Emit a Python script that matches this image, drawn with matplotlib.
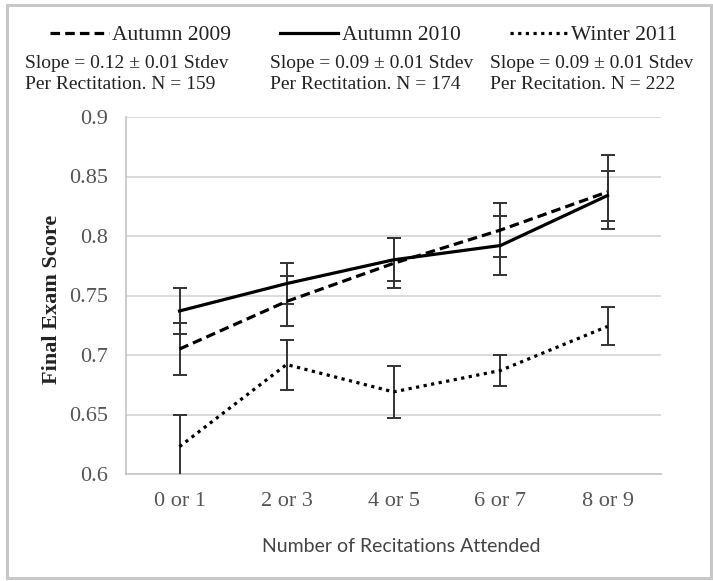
import matplotlib
matplotlib.use("Agg")
import matplotlib.pyplot as plt
from matplotlib.patches import Rectangle

# Recitation attendance groups
categories = ["0 or 1", "2 or 3", "4 or 5", "6 or 7", "8 or 9"]

# Mean final exam score and standard error for each term
autumn2009 = [0.705, 0.745, 0.777, 0.805, 0.837]
autumn2009_err = [0.022, 0.021, 0.021, 0.023, 0.031]
autumn2010 = [0.737, 0.760, 0.780, 0.792, 0.834]
autumn2010_err = [0.019, 0.017, 0.018, 0.025, 0.021]
winter2011 = [0.623, 0.692, 0.669, 0.687, 0.724]
winter2011_err = [0.027, 0.021, 0.022, 0.013, 0.016]

series_names = ["Autumn 2009", "Autumn 2010", "Winter 2011"]
slope_notes = [
    "Slope = 0.12 \u00b1 0.01 Stdev\nPer Rectitation. N = 159",
    "Slope = 0.09 \u00b1 0.01 Stdev\nPer Rectitation. N = 174",
    "Slope = 0.09 \u00b1 0.01 Stdev\nPer Recitation. N = 222",
]
y_ticks = [0.6, 0.65, 0.7, 0.75, 0.8, 0.85, 0.9]
y_tick_labels = ["0.6", "0.65", "0.7", "0.75", "0.8", "0.85", "0.9"]

SERIF = ["Liberation Serif", "DejaVu Serif"]
W, H = 713, 581
fig = plt.figure(figsize=(W / 100, H / 100), dpi=100)
ax = fig.add_axes([126 / W, 1 - 474 / H, 535 / W, 357 / H])

x = list(range(len(categories)))
styles = [
    dict(linestyle=(0, (3, 1.6)), linewidth=2.3),
    dict(linestyle="-", linewidth=2.3),
    dict(linestyle=(0, (1, 1.4)), linewidth=2.3),
]
means = [autumn2009, autumn2010, winter2011]
errs = [autumn2009_err, autumn2010_err, winter2011_err]

handles = []
for name, m, e, st in zip(series_names, means, errs, styles):
    ax.errorbar(x, m, yerr=e, fmt="none", ecolor="#333333", elinewidth=1.4,
                capsize=5, capthick=1.4, zorder=3)
    (ln,) = ax.plot(x, m, color="black", label=name, zorder=4, **st)
    handles.append(ln)

ax.set_xlim(-0.5, len(categories) - 0.5)
ax.set_ylim(0.6, 0.9)
ax.set_yticks(y_ticks)
ax.set_yticklabels(y_tick_labels)
ax.set_xticks(x)
ax.set_xticklabels(categories)
ax.tick_params(length=0, labelsize=16, labelcolor="#555555", pad=13)
for lbl in ax.get_xticklabels() + ax.get_yticklabels():
    lbl.set_family(SERIF)

ax.yaxis.grid(True, color="#d4d4d4", linewidth=1.2)
ax.set_axisbelow(True)
for side in ("top", "right"):
    ax.spines[side].set_visible(False)
for side in ("left", "bottom"):
    ax.spines[side].set_color("#c4c4c4")
    ax.spines[side].set_linewidth(1.2)

ax.set_ylabel("Final Exam Score", family=SERIF, fontsize=16, fontweight="bold",
              color="#222222", ha="center", va="center")
ax.yaxis.set_label_coords((52 - 126) / 535, (474 - 299) / 357)
ax.set_xlabel("Number of Recitations Attended", family=["Lato", "DejaVu Sans"],
              fontsize=14, color="#444444", ha="center", va="center")
ax.xaxis.set_label_coords((401 - 126) / 535, (474 - 547) / 357)

fig.legend(handles=handles, labels=series_names, ncol=3, loc="center",
           bbox_to_anchor=(364 / W, 1 - 35 / H), frameon=False,
           prop=dict(family=SERIF, size=15.5), handlelength=2.7,
           handletextpad=0.15, columnspacing=2.3, labelcolor="#222222")

for note, xl in zip(slope_notes, [25, 270, 490]):
    fig.text(xl / W, 1 - 74 / H, note, family=SERIF, fontsize=14,
             color="#222222", ha="left", va="center", linespacing=1.35)

fig.patches.append(Rectangle((7 / W, 3 / H), 704 / W, 573 / H, transform=fig.transFigure,
                             fill=False, edgecolor="#c8c8c8", linewidth=2.2))

fig.savefig("out.png", dpi=100)
